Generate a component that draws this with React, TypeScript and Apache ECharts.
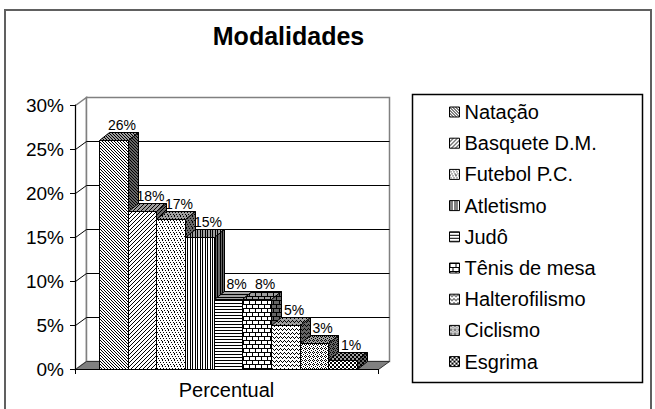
import React, { useEffect, useRef } from 'react';
import * as echarts from 'echarts';

// ---------- data ----------
const categories = ['Percentual'];
const seriesNames = [
  'Natação',
  'Basquete D.M.',
  'Futebol P.C.',
  'Atletismo',
  'Judô',
  'Tênis de mesa',
  'Halterofilismo',
  'Ciclismo',
  'Esgrima',
];
const seriesValues = [26, 18, 17, 15, 8, 8, 5, 3, 1];
const yTickValues = [0, 5, 10, 15, 20, 25, 30];
const titleText = 'Modalidades';

// ---------- styles ----------
const FONT = '"Liberation Sans", Arial, Helvetica, sans-serif';
type Pat = { w: number; h: number; px: number[][] };
const PATTERNS: Pat[] = [
  // Natação: "\\" diagonal
  { w: 3, h: 3, px: [[0, 0], [1, 1], [2, 2]] },
  // Basquete: "//" diagonal
  { w: 4, h: 4, px: [[3, 0], [2, 1], [1, 2], [0, 3]] },
  // Futebol: stipple
  { w: 6, h: 6, px: [[0, 0], [3, 0], [1, 2], [4, 2], [2, 4], [5, 4], [0, 5]] },
  // Atletismo: vertical lines
  { w: 5, h: 1, px: [[0, 0], [2, 0]] },
  // Judô: horizontal lines
  { w: 1, h: 3, px: [[0, 0]] },
  // Tênis de mesa: brick
  {
    w: 6, h: 8,
    px: [[0, 0], [1, 0], [2, 0], [3, 0], [4, 0], [5, 0], [0, 1], [0, 2], [0, 3],
      [0, 4], [1, 4], [2, 4], [3, 4], [4, 4], [5, 4], [3, 5], [3, 6], [3, 7]],
  },
  // Halterofilismo: zigzag
  { w: 4, h: 4, px: [[0, 0], [1, 1], [2, 2], [3, 1]] },
  // Ciclismo: dense dots
  { w: 4, h: 4, px: [[0, 0], [2, 0], [1, 1], [3, 2], [1, 3]] },
  // Esgrima: checker
  { w: 4, h: 4, px: [[0, 0], [1, 0], [0, 1], [1, 1], [2, 2], [3, 2], [2, 3], [3, 3]] },
];
const BG_FRONT = '#ffffff';
const BG_TOP = '#a0a0a0';
const BG_SIDE = '#666666';

const LEFT_FRAC = 24 / 303; // gap before first bar within the category band
const BAR_FRAC = 28.67 / 303; // each bar width as a fraction of the band
const DX = 10; // bar depth (px)
const DY = -8;
const DXW = 11; // wall depth (px)
const DYW = -8;

const crisp = (v: number) => Math.round(v) + 0.5;

function makePattern(p: Pat, bg: string): any {
  const c = document.createElement('canvas');
  c.width = p.w;
  c.height = p.h;
  const ctx = c.getContext('2d')!;
  ctx.fillStyle = bg;
  ctx.fillRect(0, 0, p.w, p.h);
  ctx.fillStyle = '#000';
  p.px.forEach(([x, y]) => ctx.fillRect(x, y, 1, 1));
  return { image: c.toDataURL(), repeat: 'repeat', imageWidth: p.w, imageHeight: p.h };
}

export default function App() {
  const ref = useRef<HTMLDivElement>(null);

  useEffect(() => {
    const chart = echarts.init(ref.current!, null, { renderer: 'svg' });

    const pats = PATTERNS.map((p) => ({
      front: makePattern(p, BG_FRONT),
      top: makePattern(p, BG_TOP),
      side: makePattern(p, BG_SIDE),
    }));

    const wallSeries: any = {
      type: 'custom',
      name: '__wall',
      z: 1,
      silent: true,
      data: [[0, 0]],
      encode: { x: 0, y: 1 },
      renderItem: (params: any, api: any) => {
        const cs = params.coordSys;
        const L = crisp(cs.x);
        const R = crisp(cs.x + cs.width);
        const T = crisp(cs.y);
        const B = crisp(cs.y + cs.height);
        const children: any[] = [
          {
            type: 'polygon',
            shape: { points: [[L, T], [L + DXW, T + DYW], [L + DXW, B + DYW], [L, B]] },
            style: { fill: '#fff', stroke: '#808080', lineWidth: 1.5 },
          },
          {
            type: 'rect',
            shape: { x: L + DXW, y: T + DYW, width: R - L, height: B - T },
            style: { fill: '#fff', stroke: '#808080', lineWidth: 1.5 },
          },
        ];
        yTickValues.forEach((t) => {
          if (t === yTickValues[0] || t === yTickValues[yTickValues.length - 1]) return;
          const y = crisp(api.coord([0, t])[1]);
          children.push({
            type: 'polyline',
            shape: { points: [[L, y], [L + DXW, y + DYW], [R + DXW, y + DYW]] },
            style: { fill: 'none', stroke: '#000', lineWidth: 1 },
          });
        });
        children.push({
          type: 'polygon',
          shape: { points: [[L, B], [L + DXW, B + DYW], [R + DXW, B + DYW], [R, B]] },
          style: { fill: '#808080', stroke: '#333', lineWidth: 1 },
        });
        return { type: 'group', children };
      },
    };

    const barSeries = seriesNames.map((name, i) => ({
      type: 'custom',
      name,
      z: 2,
      data: [[0, seriesValues[i]]],
      encode: { x: 0, y: 1 },
      itemStyle: { color: pats[i].front, borderColor: '#000', borderWidth: 1 },
      renderItem: (params: any, api: any) => {
        const v = api.value(1);
        const top = api.coord([api.value(0), v]);
        const base = api.coord([api.value(0), 0]);
        const bandW = api.size([1, 0], [0, 0])[0];
        const w = bandW * BAR_FRAC;
        const x0 = top[0] - bandW / 2 + bandW * LEFT_FRAC + i * w;
        const x = crisp(x0);
        const x1 = crisp(x0 + w);
        const yT = crisp(top[1]);
        const yB = crisp(base[1]);
        return {
          type: 'group',
          children: [
            {
              type: 'rect',
              shape: { x, y: yT, width: x1 - x, height: yB - yT },
              style: { fill: pats[i].front, stroke: '#000', lineWidth: 1 },
            },
            {
              type: 'polygon',
              shape: { points: [[x, yT], [x + DX, yT + DY], [x1 + DX, yT + DY], [x1, yT]] },
              style: { fill: pats[i].top, stroke: '#000', lineWidth: 1 },
            },
            {
              type: 'polygon',
              shape: { points: [[x1, yT], [x1 + DX, yT + DY], [x1 + DX, yB + DY], [x1, yB]] },
              style: { fill: pats[i].side, stroke: '#000', lineWidth: 1 },
            },
            {
              type: 'text',
              z2: 100,
              x: (x + x1) / 2 + 8,
              y: yT + DY - 1,
              style: {
                text: v + '%',
                fill: '#000',
                font: '14px ' + FONT,
                textAlign: 'center',
                textVerticalAlign: 'bottom',
              },
            },
          ],
        };
      },
    }));

    const option: any = {
      animation: false,
      backgroundColor: '#fff',
      graphic: [
        {
          type: 'rect',
          shape: { x: 5, y: 10, width: 646, height: 420 },
          style: { fill: 'none', stroke: '#606060', lineWidth: 2 },
          silent: true,
        },
        {
          type: 'rect',
          shape: { x: 412.5, y: 94.5, width: 230, height: 288 },
          style: { fill: 'none', stroke: '#000', lineWidth: 1.5 },
          silent: true,
        },
        {
          type: 'text',
          x: 288.5,
          y: 36,
          style: {
            text: titleText,
            fill: '#000',
            font: 'bold 25px ' + FONT,
            textAlign: 'center',
            textVerticalAlign: 'middle',
          },
        },
      ],
      legend: {
        orient: 'vertical',
        left: 449,
        top: 101.5,
        padding: 0,
        itemWidth: 10,
        itemHeight: 10,
        itemGap: 10.2,
        icon: 'rect',
        selectedMode: false,
        data: seriesNames,
        itemStyle: { borderColor: '#000', borderWidth: 1 },
        textStyle: { fontSize: 20, lineHeight: 21, fontFamily: FONT, color: '#000' },
      },
      grid: { left: 75, right: 277, top: 105, bottom: 40, containLabel: false },
      xAxis: {
        type: 'category',
        data: categories,
        z: 1.5,
        axisLine: { show: true, lineStyle: { color: '#000', width: 1 } },
        axisTick: { show: true, length: 5, lineStyle: { color: '#000' } },
        axisLabel: { fontSize: 20, color: '#000', margin: 11, fontFamily: FONT },
        splitLine: { show: false },
      },
      yAxis: {
        type: 'value',
        min: 0,
        max: 30,
        interval: 5,
        z: 1.5,
        axisLine: { show: true, lineStyle: { color: '#000', width: 1 } },
        axisTick: { show: true, length: 5, lineStyle: { color: '#000' } },
        axisLabel: { formatter: '{value}%', fontSize: 19, color: '#000', margin: 11, fontFamily: FONT },
        splitLine: { show: false },
      },
      series: [wallSeries, ...barSeries],
    };

    chart.setOption(option);
    return () => chart.dispose();
  }, []);

  return (
    <div
      ref={ref}
      style={{ position: 'fixed', left: 0, top: 0, width: 655, height: 409 }}
    />
  );
}
